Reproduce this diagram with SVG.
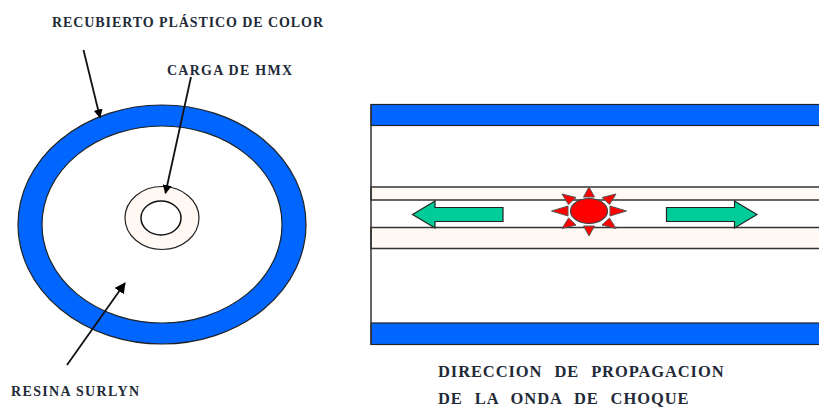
<svg xmlns="http://www.w3.org/2000/svg" width="819" height="407" viewBox="0 0 819 407">
<style>
text{font-family:"Liberation Serif","Times New Roman",serif;font-weight:bold;fill:#222a38}
.s{font-size:14px}
.b{font-size:16.500px;letter-spacing:.9px;word-spacing:7px}
.blue{fill:#0066ff;stroke:#222;stroke-width:1.2}
.band{fill:#fff8f3;stroke:#333;stroke-width:1.5}
.line{stroke:#111;stroke-width:1.8;fill:none}
.ray{fill:#f00;stroke:#555;stroke-width:1}
.arr{fill:#00cc99;stroke:#222;stroke-width:1.2}
</style>
<defs>
<marker id="ah" markerWidth="9" markerHeight="9" refX="8" refY="4.5" orient="auto" markerUnits="userSpaceOnUse" viewBox="0 0 9 9"><path d="M0 0L9 4.5L0 9Z" fill="#000"/></marker>
<marker id="ah2" markerWidth="11" markerHeight="11" refX="10" refY="5.5" orient="auto" markerUnits="userSpaceOnUse" viewBox="0 0 11 11"><path d="M0 0L11 5.5L0 11Z" fill="#000"/></marker>
</defs>
<rect width="819" height="407" fill="#fff"/>
<g id="capsule">
<ellipse class="blue" cx="162" cy="224.500" rx="144" ry="119.500"/>
<ellipse cx="162" cy="224.500" rx="120" ry="98.500" fill="#fff" stroke="#222" stroke-width="1.200"/>
<ellipse cx="162" cy="218" rx="37" ry="31.500" fill="#fff8f3" stroke="#222" stroke-width="1.200"/>
<ellipse cx="161" cy="218" rx="20" ry="17" fill="#fff" stroke="#111" stroke-width="1.500"/>
</g>
<g id="tube">
<rect class="blue" x="371" y="104.500" width="449" height="21"/>
<rect class="blue" x="371" y="323" width="449" height="21.500"/>
<rect class="band" x="371" y="187" width="449" height="13"/>
<rect class="band" x="371" y="227.500" width="449" height="21"/>
<path d="M371 104V345" stroke="#333" stroke-width="1.500" fill="none"/>
</g>
<g id="explosion">
<path class="ray" d="M589 187L594.500 197H583.500Z"/>
<path class="ray" d="M589 236L594.500 226H583.500Z"/>
<path class="ray" d="M551.500 211L568 206V216Z"/>
<path class="ray" d="M626.500 211L610 206V216Z"/>
<path class="ray" d="M562 194L576 197.500L568.500 204.500Z"/>
<path class="ray" d="M616 194L602 197.500L609.500 204.500Z"/>
<path class="ray" d="M562 228.500L576 225L568.500 218Z"/>
<path class="ray" d="M616 228.500L602 225L609.500 218Z"/>
<ellipse cx="589" cy="211" rx="18.500" ry="12.500" fill="#f00" stroke="#444" stroke-width="1.200"/>
</g>
<g id="arrow-left"><path class="arr" d="M412.500 214.500L435 201V207.500H503V221.500H435V228Z"/></g>
<g id="arrow-right"><path class="arr" d="M757 214.500L734.500 201V207.500H666.500V221.500H734.500V228Z"/></g>
<g id="connectors">
<path class="line" d="M83.500 50L100 117.500" marker-end="url(#ah)"/>
<path class="line" d="M191 77L165.500 193" marker-end="url(#ah)"/>
<path class="line" d="M67 365L125 283" marker-end="url(#ah2)"/>
</g>
<g id="labels">
<text class="s" x="52" y="27" textLength="271">RECUBIERTO PLÁSTICO DE COLOR</text>
<text class="s" x="167" y="75" textLength="125">CARGA DE HMX</text>
<text class="s" x="11" y="396" textLength="128">RESINA SURLYN</text>
<text class="b" x="438" y="377">DIRECCION DE PROPAGACION</text>
<text class="b" x="438" y="403.500">DE LA ONDA DE CHOQUE</text>
</g>
</svg>
